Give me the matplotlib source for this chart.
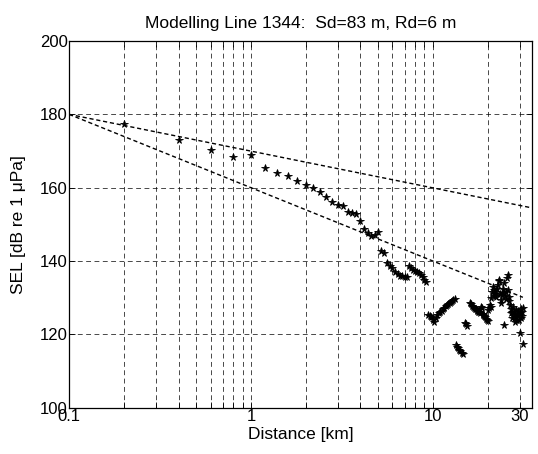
import matplotlib
matplotlib.use("Agg")
import matplotlib.pyplot as plt

plt.rcParams['font.family'] = ['Liberation Sans', 'DejaVu Sans']

# measured SEL values
distance_km = [0.2, 0.4, 0.6, 0.8, 1.0,
               1.2, 1.4, 1.6, 1.8, 2.0, 2.2, 2.4, 2.6, 2.8, 3.0, 3.2, 3.4, 3.6, 3.8, 4.0,
               4.2, 4.4, 4.6, 4.8, 5.0, 5.2, 5.4, 5.6, 5.8, 6.0, 6.2, 6.4, 6.6, 6.8, 7.0,
               7.2, 7.4, 7.6, 7.8, 8.0, 8.2, 8.4, 8.6, 8.8, 9.0, 9.2,
               9.4, 9.6, 9.8, 10.0, 10.2, 10.4, 10.6, 10.8, 11.0, 11.2, 11.4, 11.6, 11.8,
               12.0, 12.2, 12.4, 12.6, 12.8, 13.0, 13.2,
               13.4, 13.6, 13.8, 14.0, 14.2, 14.4, 14.6,
               15.0, 15.2, 15.4,
               16.0, 16.2, 16.4, 16.6, 16.8, 17.0, 17.2, 17.4, 17.6, 17.8, 18.0, 18.2,
               18.4, 18.6, 18.8, 19.0, 19.2, 19.4, 19.6, 19.8, 20.0,
               20.2, 20.4, 20.6, 20.8, 21.0, 21.2, 21.4, 21.6, 21.8, 22.0, 22.2, 22.4,
               22.6, 22.8, 23.0, 23.2, 23.4, 23.6, 23.8, 24.0, 24.2, 24.4, 24.6, 24.8,
               25.0, 25.2, 25.4, 25.6, 25.8, 26.0, 26.2, 26.4, 26.6, 26.8, 27.0, 27.2,
               27.4, 27.6, 27.8, 28.0, 28.2, 28.4, 28.6, 28.8, 29.0, 29.2, 29.4, 29.6,
               29.8, 30.0, 30.2, 30.4, 30.6, 30.8, 31.0, 31.2, 31.4]
sel_db = [177.3, 173.0, 170.2, 168.4, 168.9,
          165.4, 163.9, 163.1, 161.9, 160.8, 160.0, 158.7, 157.5, 156.2, 155.4, 155.0, 153.3, 153.0, 152.8, 150.9,
          148.8, 147.6, 146.8, 147.0, 147.9, 142.8, 142.3, 139.4, 138.6, 138.0, 137.0, 136.4, 136.0, 135.8, 135.7,
          135.6, 138.6, 138.0, 137.6, 137.2, 136.9, 136.6, 136.2, 135.6, 134.8, 134.2,
          125.3, 125.0, 124.8, 124.0, 123.5, 124.5, 125.2, 125.7, 126.0, 126.5, 126.9, 127.2, 127.6,
          127.9, 128.2, 128.5, 128.8, 129.1, 129.4, 129.6,
          117.0, 116.6, 116.2, 115.8, 115.4, 115.0, 114.6,
          123.2, 122.8, 122.4,
          128.5, 128.2, 127.8, 127.5, 127.2, 127.0, 126.8, 126.6, 126.4, 126.2, 126.0, 125.8,
          127.5, 127.3, 125.6, 125.4, 125.1, 124.8, 124.3, 124.0, 123.7,
          126.6, 127.3, 128.0, 127.5, 130.0, 131.5, 133.0, 132.0, 131.0, 130.5, 130.3, 131.5,
          132.3, 133.5, 134.5, 134.8, 131.0, 129.5, 128.5, 130.8, 131.2, 132.5, 133.9, 122.6,
          130.5, 131.5, 129.7, 135.5, 136.2, 132.0, 130.3, 129.0, 128.0, 126.8, 125.7, 126.2,
          124.5, 127.5, 126.0, 125.0, 123.5, 124.8, 126.6, 124.0, 125.5, 123.9, 125.3, 126.5,
          124.0, 120.3, 125.7, 124.5, 127.0, 125.0, 126.0, 127.1, 117.3]

# spreading-loss reference lines (end points)
cyl_x = [0.1, 35.0]
cyl_y = [180.0, 154.5]
sph_x = [0.1, 31.3]
sph_y = [180.0, 130.1]

xtick_vals = [0.1, 0.2, 0.3, 0.4, 0.5, 0.6, 0.7, 0.8, 0.9, 1, 2, 3, 4, 5, 6, 7, 8, 9, 10, 20, 30]
xtick_labels = ['0.1', '', '', '', '', '', '', '', '', '1', '', '', '', '', '', '', '', '', '10', '', '30']
ytick_vals = [100, 120, 140, 160, 180, 200]

fig = plt.figure(figsize=(5.38, 4.54), dpi=100)
ax = fig.add_axes([0.1283, 0.102, 0.8600, 0.8077])

ax.set_xscale('log')
ax.plot(cyl_x, cyl_y, color='black', lw=1.0, ls=(0, (3, 2)))
ax.plot(sph_x, sph_y, color='black', lw=1.0, ls=(0, (3, 2)))
ax.plot(distance_km, sel_db, ls='none', marker='*', ms=5.5, color='black', mew=0.6)

ax.set_xlim(0.1, 35)
ax.set_ylim(100, 200)
ax.set_xticks(xtick_vals)
ax.set_xticklabels(xtick_labels)
ax.xaxis.set_minor_locator(matplotlib.ticker.NullLocator())
ax.set_yticks(ytick_vals)
ax.tick_params(axis='both', which='both', direction='in', top=True, right=True,
               length=4, width=0.6, labelsize=12, pad=1)
ax.grid(True, which='major', color='black', lw=0.5, ls=(0, (7, 5)))

for sp in ax.spines.values():
    sp.set_linewidth(0.9)

ax.set_title('Modelling Line 1344:  Sd=83 m, Rd=6 m', fontsize=12.5, pad=9)
ax.set_xlabel('Distance [km]', fontsize=12.5, labelpad=2)
ax.set_ylabel('SEL [dB re 1 μPa]', fontsize=12.5, labelpad=10)

fig.savefig('out.png', dpi=100)
